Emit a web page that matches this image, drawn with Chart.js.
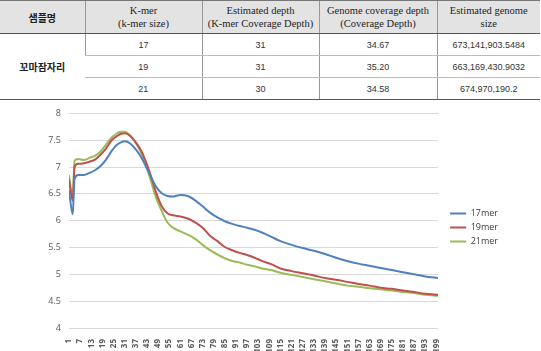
<!DOCTYPE html>
<html>
<head>
<meta charset="utf-8">
<script src="https://cdn.jsdelivr.net/npm/chart.js@4.4.1/dist/chart.umd.min.js"></script>
<style>
  html, body { margin: 0; padding: 0; background: #fff; }
  body { width: 541px; height: 351px; position: relative; overflow: hidden; }
  table {
    position: absolute; left: 0; top: 0; width: 540px;
    border-collapse: collapse; table-layout: fixed;
    font-family: "Liberation Sans", sans-serif; font-size: 9px; color: #333;
  }
  th {
    background: #e3e3e3; height: 32px; padding: 0; font-weight: normal;
    font-family: "Liberation Serif", serif; font-size: 10.5px; line-height: 13px; color: #222;
    border-top: 1px solid #777; border-bottom: 1px solid #555;
    border-left: 1px solid #999;
  }
  th:first-child, td:first-child { border-left: none; }
  th.ko { font-family: "Noto Sans CJK KR", sans-serif; font-weight: bold; font-size: 10px; }
  td {
    height: 21px; padding: 0; text-align: center;
    border-left: 1px solid #999; border-bottom: 1px solid #bbb;
  }
  tr:last-child td, td.name { border-bottom: 1px solid #555; }
  td.name { font-family: "Noto Sans CJK KR", sans-serif; font-weight: bold; font-size: 10px; color: #222; }
  #wrap { position: absolute; left: 0; top: 100px; width: 541px; height: 251px; }
</style>
</head>
<body>
<table>
  <colgroup><col style="width:85px"><col style="width:117px"><col style="width:117px"><col style="width:118px"><col style="width:103px"></colgroup>
  <tr>
    <th class="ko">샘플명</th>
    <th>K-mer<br>(k-mer size)</th>
    <th>Estimated depth<br>(K-mer Coverage Depth)</th>
    <th>Genome coverage depth<br>(Coverage Depth)</th>
    <th>Estimated genome<br>size</th>
  </tr>
  <tr><td class="name" rowspan="3">꼬마잠자리</td><td>17</td><td>31</td><td>34.67</td><td>673,141,903.5484</td></tr>
  <tr><td>19</td><td>31</td><td>35.20</td><td>663,169,430.9032</td></tr>
  <tr><td>21</td><td>30</td><td>34.58</td><td>674,970,190.2</td></tr>
</table>
<div id="wrap"><canvas id="kmerChart" width="541" height="251"></canvas></div>
<script>
// k-mer positions sampled off the curves
const kmerX = [1, 3, 4, 6, 9, 12, 15, 18, 21, 24, 27, 29, 31, 34, 37, 40, 43, 45, 48, 51,
  54, 57, 61, 65, 69, 73, 77, 81, 85, 89, 93, 97, 101, 105, 110, 115, 121, 127, 133, 139,
  145, 151, 157, 163, 169, 175, 181, 187, 193, 200];

const mer17 = [6.57, 6.12, 6.78, 6.85, 6.85, 6.89, 6.94, 7.02, 7.14, 7.30, 7.42, 7.46, 7.48, 7.44, 7.33, 7.18, 6.97, 6.83, 6.63, 6.51,
  6.46, 6.45, 6.48, 6.46, 6.38, 6.27, 6.15, 6.06, 5.99, 5.94, 5.90, 5.87, 5.83, 5.78, 5.70, 5.62, 5.55, 5.49, 5.44, 5.38,
  5.31, 5.25, 5.20, 5.16, 5.12, 5.08, 5.04, 5.00, 4.96, 4.93];

const mer19 = [6.77, 6.37, 7.00, 7.06, 7.07, 7.10, 7.14, 7.23, 7.35, 7.50, 7.58, 7.62, 7.63, 7.58, 7.46, 7.30, 7.05, 6.85, 6.52, 6.27,
  6.14, 6.10, 6.08, 6.04, 5.97, 5.87, 5.72, 5.62, 5.51, 5.45, 5.40, 5.36, 5.31, 5.25, 5.19, 5.11, 5.06, 5.02, 4.98, 4.93,
  4.90, 4.86, 4.82, 4.79, 4.75, 4.73, 4.70, 4.67, 4.64, 4.62];

const mer21 = [6.85, 6.43, 7.12, 7.15, 7.13, 7.17, 7.21, 7.29, 7.42, 7.55, 7.63, 7.66, 7.66, 7.59, 7.45, 7.26, 6.98, 6.76, 6.42, 6.18,
  5.97, 5.87, 5.80, 5.74, 5.66, 5.55, 5.45, 5.37, 5.30, 5.25, 5.22, 5.18, 5.15, 5.11, 5.08, 5.03, 4.99, 4.95, 4.91, 4.87,
  4.83, 4.79, 4.77, 4.74, 4.72, 4.70, 4.67, 4.65, 4.62, 4.60];

const xTickLabels = [];
for (let v = 1; v <= 199; v += 6) xTickLabels.push(v);

const seriesNames = ['17mer', '19mer', '21mer'];
const seriesColors = ['#4f81bd', '#c0504d', '#9bbb59'];
const seriesData = [mer17, mer19, mer21];

// nudge the legend a bit right/up without touching the plot area
const legendNudge = {
    id: 'legendNudge',
    afterLayout(chart) {
        const lg = chart.legend;
        lg.left += 7; lg.right += 7;
        lg.top -= 4; lg.bottom -= 4;
    }
};

const ctx = document.getElementById('kmerChart').getContext('2d');
new Chart(ctx, {
    type: 'line',
    data: {
        datasets: seriesData.map((vals, i) => ({
            label: seriesNames[i],
            data: vals.map((y, j) => ({ x: kmerX[j], y: y })),
            borderColor: seriesColors[i],
            backgroundColor: seriesColors[i],
            borderWidth: 2,
            pointRadius: 0,
            cubicInterpolationMode: 'monotone',
            fill: false
        }))
    },
    plugins: [legendNudge],
    options: {
        responsive: false,
        animation: false,
        layout: { padding: { top: 12, right: 40, left: 0, bottom: 0 } },
        plugins: {
            tooltip: { enabled: false },
            legend: {
                position: 'right',
                labels: {
                    usePointStyle: true,
                    pointStyle: 'line',
                    pointStyleWidth: 16,
                    padding: 5,
                    color: '#404040',
                    font: { family: 'Open Sans', size: 9 }
                }
            }
        },
        scales: {
            x: {
                type: 'linear',
                min: 1,
                max: 200,
                grid: { display: false },
                border: { display: false },
                afterBuildTicks: scale => { scale.ticks = xTickLabels.map(v => ({ value: v })); },
                afterFit: scale => { scale.height = 23; },
                ticks: {
                    autoSkip: false,
                    minRotation: 90,
                    maxRotation: 90,
                    padding: 3,
                    color: '#595959',
                    font: { family: 'Open Sans', size: 8, weight: 'bold' }
                }
            },
            y: {
                min: 4,
                max: 8,
                grid: { color: '#d9d9d9', drawTicks: false },
                border: { display: false },
                afterFit: scale => { scale.width = 69; },
                ticks: {
                    stepSize: 0.5,
                    padding: 8,
                    color: '#595959',
                    font: { family: 'Open Sans', size: 9 },
                    callback: v => String(v)
                }
            }
        }
    }
});
</script>
</body>
</html>
